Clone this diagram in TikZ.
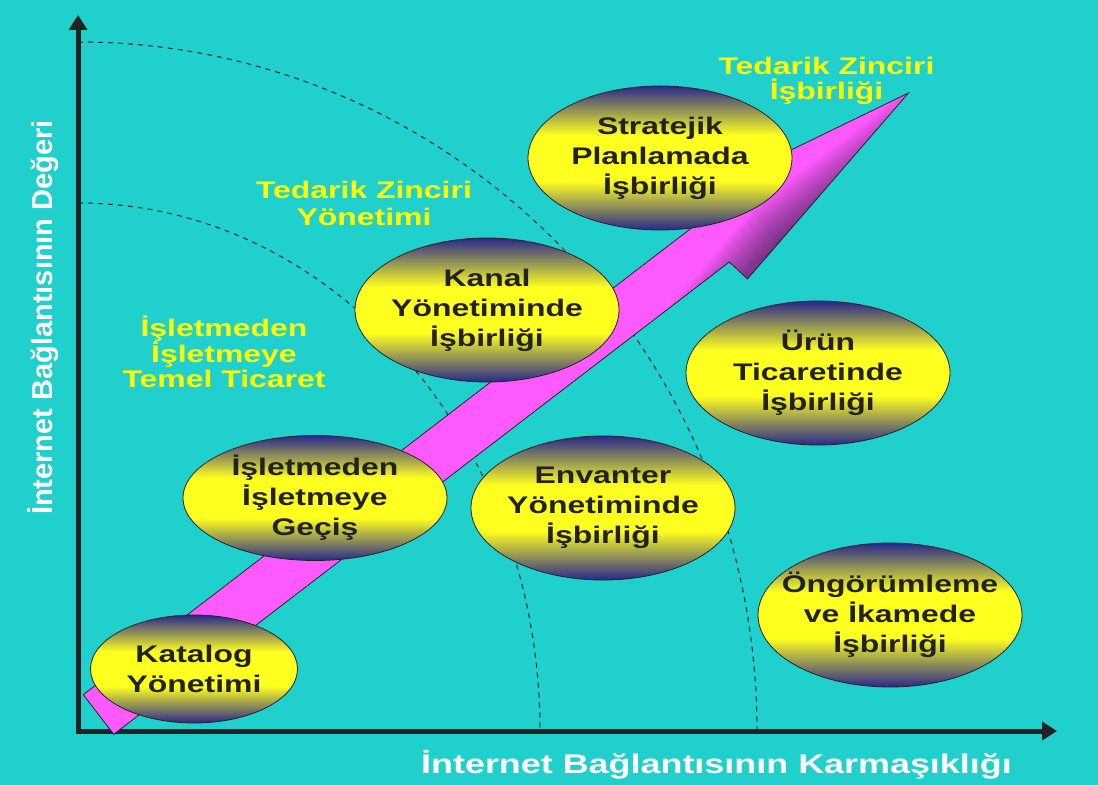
\documentclass[tikz,border=0pt]{standalone}
\usepackage{fontspec}
\setmainfont{Liberation Sans}
\newfontfamily\widefont{Liberation Sans}[FakeStretch=1.33]
\usetikzlibrary{shapes.geometric,arrows.meta}
\definecolor{sea}{RGB}{32,208,204}
\definecolor{pinkarrow}{RGB}{255,90,255}
\definecolor{inkdark}{RGB}{34,34,34}
\definecolor{ovalblue}{RGB}{40,40,140}
\definecolor{ovalyellow}{RGB}{255,255,32}
\definecolor{zoneyellow}{RGB}{255,255,0}
\pgfdeclareverticalshading{ovalfill}{100bp}{color(0bp)=(ovalblue); color(25bp)=(ovalblue); color(42bp)=(ovalyellow); color(58bp)=(ovalyellow); color(75bp)=(ovalblue); color(100bp)=(ovalblue)}

\begin{document}
\begin{tikzpicture}[x=1pt,y=1pt,
    phase/.style = {ellipse, draw=inkdark, line width=0.8pt, shade, shading=ovalfill,
      minimum width=264, minimum height=144, inner sep=-30pt, align=center,
      text=inkdark, font=\widefont\bfseries\fontsize{24}{30}\selectfont},
    zone/.style = {align=center, text=zoneyellow, font=\widefont\bfseries\fontsize{24}{25}\selectfont},
    axis/.style = {line width=5pt, draw=inkdark, line join=miter,
      {Triangle[length=15pt,width=18pt]}-{Triangle[length=15pt,width=18pt]}},
    guide/.style = {draw=inkdark, line width=1pt, dash pattern=on 5pt off 5pt}
  ]
  \fill[sea] (0,0) rectangle (1098,785);

  \coordinate (origin) at (78,54);
  \coordinate (ytop) at (78,770);
  \coordinate (xend) at (1057,54);

  \foreach \rx/\ry in {679/689, 462/528}{ % dashed zone borders
      \draw[guide] (78,{54+\ry}) arc[start angle=90, end angle=0, x radius=\rx pt, y radius=\ry pt];
    }
  \draw[axis] (ytop) -- (origin) -- (xend);

  % rising arrow
  \begin{scope}[shift={(98.5,70.5)}, rotate=37.5]
    \fill[pinkarrow, save path=\arrowpath] (0,25) -- (776,25) -- (780,49.5) -- (1021,0)
      -- (780,-49.5) -- (776,-25) -- (0,-25) -- cycle;
    \begin{scope}
      \clip[use path=\arrowpath];
      \foreach \k in {1,...,24}{ % darker lower edge near the head
          \fill[black!80!teal, opacity=0.035] ({560+11*\k},-60) rectangle (1030,{-52+2.3*\k});
        }
    \end{scope}
    \draw[inkdark, line width=0.8pt, use path=\arrowpath];
  \end{scope}

  \node[phase, minimum width=207, minimum height=108] (katalog) at (194,116) {Katalog\\Yönetimi};
  \node[phase, minimum height=125] (gecis) at (315,287) {İşletmeden\\İşletmeye\\Geçiş};
  \foreach \nm/\x/\y/\txt in {kanal/487/475/{Kanal\\Yönetiminde\\İşbirliği},
      stratejik/660/627/{Stratejik\\Planlamada\\İşbirliği},
      urun/818/412/{Ürün\\Ticaretinde\\İşbirliği},
      envanter/603/277/{Envanter\\Yönetiminde\\İşbirliği},
      ongoru/890/170/{Öngörümleme\\ve İkamede\\İşbirliği}}{ % cooperation fields
      \node[phase] (\nm) at (\x,\y) {\txt};
    }

  \node[zone] (temel) at (224,433) {İşletmeden\\İşletmeye\\Temel Ticaret};
  \node[zone] (scmgmt) at (364,581.5) {Tedarik Zinciri\\[2pt]Yönetimi};
  \node[zone] (scpartner) at (826.5,704) {Tedarik Zinciri\\İşbirliği};

  \node[text=white, font=\widefont\bfseries\fontsize{27}{30}\selectfont, anchor=base]
    (xlabel) at (716.5,12) {İnternet Bağlantısının Karmaşıklığı};
  \node[text=white, font=\bfseries\fontsize{29}{30}\selectfont, rotate=90, anchor=base]
    (ylabel) at (53,467.5) {İnternet Bağlantısının Değeri};
\end{tikzpicture}
\end{document}
